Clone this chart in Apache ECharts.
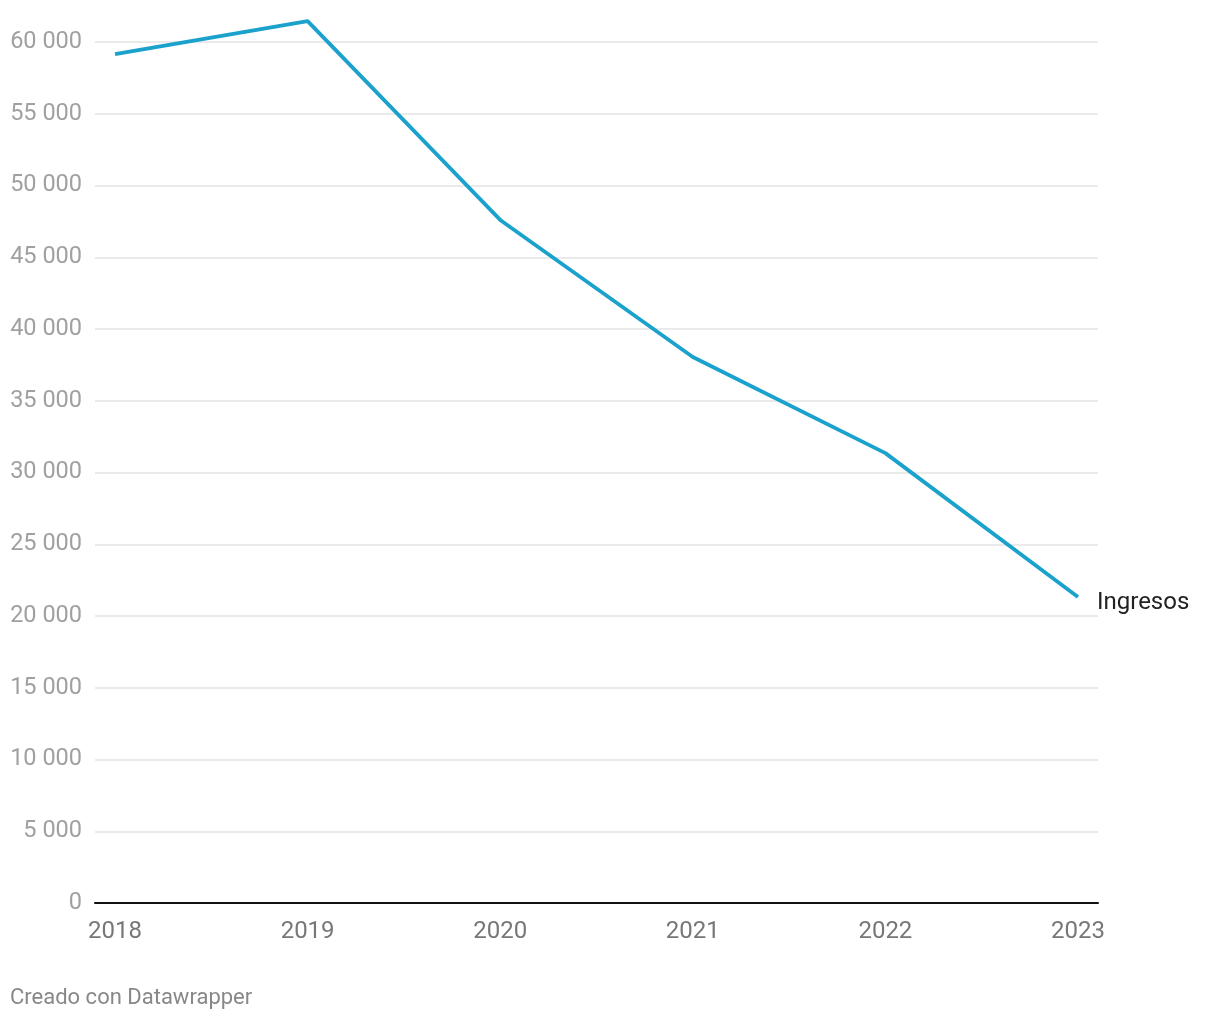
<!DOCTYPE html>
<html><head><meta charset="utf-8">
<script src="https://cdn.jsdelivr.net/npm/echarts@6/dist/echarts.min.js"></script>
<style>html,body{margin:0;padding:0;background:#fff}#c{width:1220px;height:1020px}</style>
</head><body><div id="c"></div>
<script>
const years = [2018, 2019, 2020, 2021, 2022, 2023];
const ingresos = [59150, 61450, 47600, 38050, 31350, 21320];
const yTicks = [0, 5000, 10000, 15000, 20000, 25000, 30000, 35000, 40000, 45000, 50000, 55000, 60000];
const seriesName = 'Ingresos';

const chart = echarts.init(document.getElementById('c'));
const fmt = v => String(v).replace(/\B(?=(\d{3})+(?!\d))/g, ' ');
chart.setOption({
  animation: false,
  textStyle: { fontFamily: 'Roboto' },
  grid: { left: 95, right: 122, top: 42, bottom: 117, containLabel: false },
  xAxis: {
    type: 'value',
    min: 2017.896, max: 2023.104,
    axisLine: { show: true, onZero: false, lineStyle: { color: '#111', width: 2 } },
    axisTick: { show: false },
    splitLine: { show: false },
    axisLabel: { customValues: years, color: '#777', fontSize: 24, margin: 17, fontFamily: 'Roboto', formatter: v => String(v) }
  },
  yAxis: {
    type: 'value', min: 0, max: 60000, interval: 5000,
    axisLine: { show: false }, axisTick: { show: false },
    splitLine: { lineStyle: { color: '#e3e3e3', width: 1.5 } },
    axisLabel: { customValues: yTicks, color: '#a0a0a0', fontSize: 23.5, margin: 13, fontFamily: 'Roboto', padding: [3, 0, 0, 0], formatter: v => fmt(v) }
  },
  series: [{
    name: seriesName, type: 'line',
    data: years.map((y, i) => [y, ingresos[i]]),
    symbol: 'none', clip: false,
    lineStyle: { color: '#1aa1cc', width: 3.8 },
    endLabel: { show: true, formatter: seriesName, color: '#222', fontSize: 24, fontFamily: 'Roboto', distance: 19, offset: [0, 6] },
    z: 3
  }],
  graphic: [{
    type: 'text', left: 10, top: 987,
    style: { text: 'Creado con Datawrapper', fill: '#888', fontSize: 22, fontFamily: 'Roboto' }
  }]
});
</script></body></html>
